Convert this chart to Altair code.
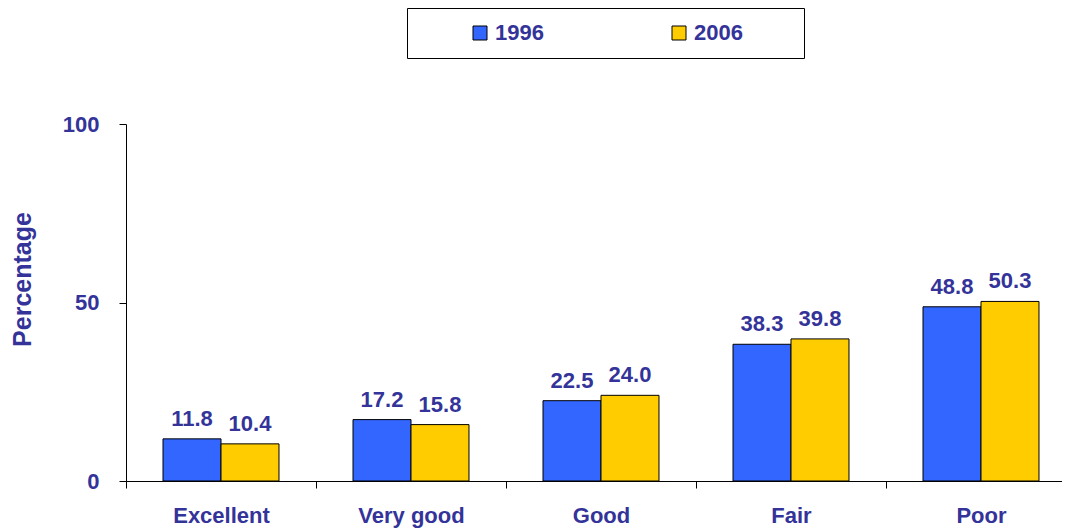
import altair as alt
import pandas as pd

categories = ["Excellent", "Very good", "Good", "Fair", "Poor"]
years = ["1996", "2006"]
values_1996 = [11.8, 17.2, 22.5, 38.3, 48.8]
values_2006 = [10.4, 15.8, 24.0, 39.8, 50.3]
colors = ["#3366FF", "#FFCC00"]
text_color = "#333399"
font = "Arial, Liberation Sans, sans-serif"

rows = []
for c, a, b in zip(categories, values_1996, values_2006):
    rows.append({"cat": c, "year": years[0], "val": a})
    rows.append({"cat": c, "year": years[1], "val": b})
df = pd.DataFrame(rows)

x = alt.X("cat:N", sort=categories, title=None,
          scale=alt.Scale(paddingInner=0, paddingOuter=0, range=[0, 950]),
          axis=alt.Axis(labelAngle=0, tickBand="extent", tickSize=7, labelPadding=17,
                        labelFontSize=22, labelFontWeight="bold", labelColor=text_color,
                        labelFont=font, domainColor="black", tickColor="black",
                        grid=False))
xoff = alt.XOffset("year:N", sort=years,
                   scale=alt.Scale(paddingInner=0, paddingOuter=0.638))
y = alt.Y("val:Q", title="Percentage",
          scale=alt.Scale(domain=[0, 100], nice=False),
          axis=alt.Axis(values=[0, 50, 100], tickSize=7, labelPadding=20, grid=False,
                        labelFontSize=22, labelFontWeight="bold", labelColor=text_color,
                        labelFont=font, domainColor="black", tickColor="black",
                        titleFontSize=25, titleFontWeight="bold", titleColor=text_color,
                        titleFont=font, titleX=-91, titleY=155, titleBaseline="bottom"))

color = alt.Color("year:N", sort=years,
                  scale=alt.Scale(domain=years, range=colors),
                  legend=alt.Legend(orient="none", legendX=281, legendY=-116,
                                    direction="horizontal", columns=2,
                                    title=" ", titleOrient="right", titlePadding=47,
                                    titleFontSize=22,
                                    padding=14, strokeColor="black",
                                    symbolType="square", symbolSize=196,
                                    symbolStrokeColor="black", symbolStrokeWidth=1,
                                    symbolOffset=48, labelOffset=4, columnPadding=76,
                                    labelFontSize=22, labelFontWeight="bold",
                                    labelColor=text_color, labelFont=font))

base = alt.Chart(df)
bars = base.mark_bar(stroke="black", strokeWidth=1).encode(
    x=x, xOffset=xoff, y=y, color=color)
labels = base.mark_text(dy=-13, baseline="alphabetic", fontSize=22, fontWeight="bold",
                        color=text_color, font=font).encode(
    x=alt.X("cat:N", sort=categories), xOffset=alt.XOffset("year:N", sort=years),
    y="val:Q", text=alt.Text("val:Q", format=".1f"))

chart = alt.layer(bars, labels).properties(
    width=936, height=357,
    padding={"left": 118, "top": 116, "right": 0, "bottom": 50},
    autosize=alt.AutoSizeParams(type="none"),
    background="white",
).configure_view(strokeWidth=0, stroke="transparent")

chart.save("out.html", embed_options={"renderer": "svg", "actions": False})
